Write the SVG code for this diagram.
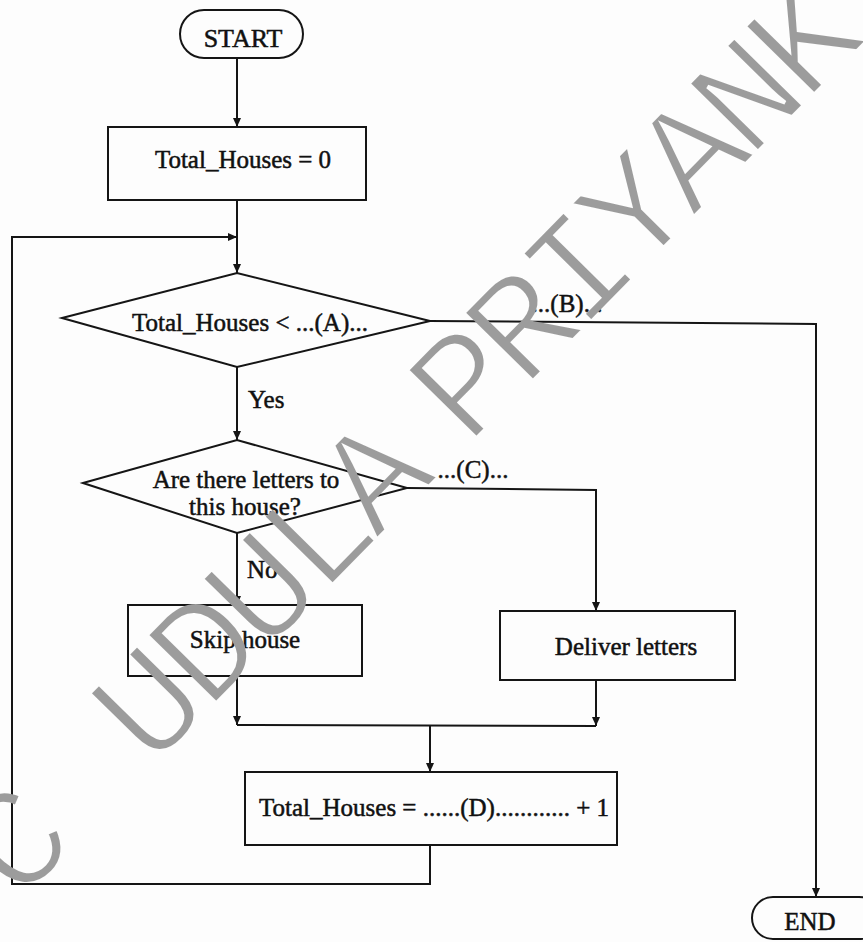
<svg xmlns="http://www.w3.org/2000/svg" width="863" height="942" viewBox="0 0 863 942">
<style>
.shape{fill:none;stroke:#151515;stroke-width:2}
.line{fill:none;stroke:#151515;stroke-width:2}
.t{font-family:"Liberation Serif","Times New Roman",serif;font-size:25px;fill:#111;stroke:#111;stroke-width:0.5;text-anchor:middle}
.lbl{font-family:"Liberation Serif","Times New Roman",serif;font-size:25px;fill:#111;stroke:#111;stroke-width:0.5}
.wm{font-family:"Liberation Mono","Courier New",monospace;font-size:148px;letter-spacing:-8.5px}
</style>
<defs>
<marker id="arr" markerUnits="userSpaceOnUse" markerWidth="9" markerHeight="8" refX="9" refY="4" orient="auto">
<path d="M0,0 L9,4 L0,8 z" fill="#151515"/>
</marker>
<mask id="thin" maskUnits="userSpaceOnUse" maskContentUnits="userSpaceOnUse" x="-300" y="-400" width="2000" height="800">
<text class="wm" x="0" y="0" fill="#fff" stroke="#000" stroke-width="4">C <tspan dx="30">UDULA</tspan><tspan dx="-30"> PRIYANK</tspan></text>
</mask>
</defs>
<rect x="0" y="0" width="863" height="942" fill="#fdfdfd"/>

<g id="connectors">
<path class="line" d="M237,58 L237,127" marker-end="url(#arr)"/>
<path class="line" d="M237,200 L237,273" marker-end="url(#arr)"/>
<path class="line" d="M430,845 L430,884 L12,884 L12,237 L237,237" marker-end="url(#arr)"/>
<path class="line" d="M237,367 L237,440" marker-end="url(#arr)"/>
<path class="line" d="M430,321 L816,324 L816,897" marker-end="url(#arr)"/>
<path class="line" d="M407,488 L596,490 L596,611" marker-end="url(#arr)"/>
<path class="line" d="M237,533 L237,605" marker-end="url(#arr)"/>
<path class="line" d="M237,676 L237,725" marker-end="url(#arr)"/>
<path class="line" d="M596,680 L596,726" marker-end="url(#arr)"/>
<path class="line" d="M237,725 L596,726"/>
<path class="line" d="M430,725 L430,772" marker-end="url(#arr)"/>
<text class="lbl" x="248" y="408">Yes</text>
<text class="lbl" x="247" y="578">No</text>
<text class="t" x="567" y="312">...(B)...</text>
<text class="t" x="473" y="478">...(C)...</text>
</g>

<g id="start">
<rect class="shape" x="180" y="10" width="123" height="48" rx="24"/>
<text class="t" x="243" y="47" style="font-size:26px">START</text>
</g>

<g id="init">
<rect class="shape" x="108" y="127" width="258" height="73"/>
<text class="t" x="243" y="168">Total_Houses = 0</text>
</g>

<g id="cond1">
<polygon class="shape" points="62,318 237,273 430,321 237,367"/>
<text class="t" x="250" y="331">Total_Houses &lt; ...(A)...</text>
</g>

<g id="cond2">
<polygon class="shape" points="83,483 237,440 407,488 237,533"/>
<text class="t" x="246" y="488">Are there letters to</text>
<text class="t" x="245" y="515">this house?</text>
</g>

<g id="skip">
<rect class="shape" x="128" y="605" width="234" height="71"/>
<text class="t" x="245" y="648">Skip house</text>
</g>

<g id="deliver">
<rect class="shape" x="500" y="611" width="235" height="69"/>
<text class="t" x="626" y="655">Deliver letters</text>
</g>

<g id="increment">
<rect class="shape" x="245" y="772" width="372" height="73"/>
<text class="t" x="434" y="816">Total_Houses = ......(D)............ + 1</text>
</g>

<g id="end">
<rect class="shape" x="752" y="897" width="128" height="42" rx="21"/>
<text class="t" x="810" y="930">END</text>
</g>

<g id="watermark" transform="translate(18,905) rotate(-45.5)">
<text class="wm" x="0" y="0" fill="#9c9c9c" mask="url(#thin)">C <tspan dx="30">UDULA</tspan><tspan dx="-30"> PRIYANK</tspan></text>
</g>
</svg>
